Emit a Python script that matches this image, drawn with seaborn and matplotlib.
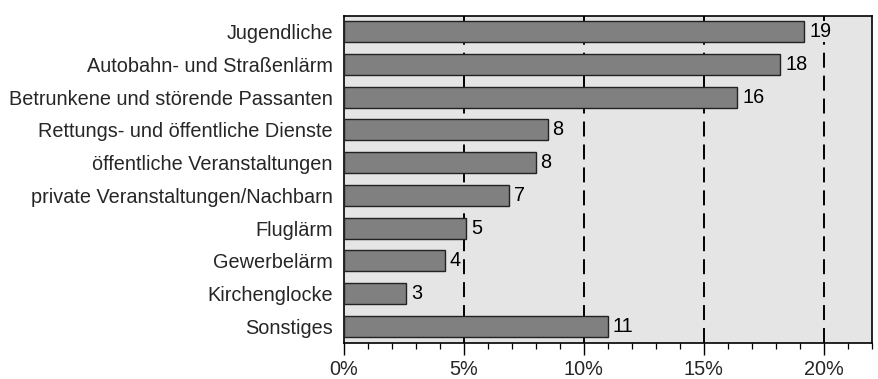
import matplotlib
matplotlib.use("Agg")
import matplotlib.pyplot as plt
from matplotlib.ticker import MultipleLocator, FuncFormatter
import seaborn as sns
import pandas as pd

categories = [
    "Jugendliche",
    "Autobahn- und Straßenlärm",
    "Betrunkene und störende Passanten",
    "Rettungs- und öffentliche Dienste",
    "öffentliche Veranstaltungen",
    "private Veranstaltungen/Nachbarn",
    "Fluglärm",
    "Gewerbelärm",
    "Kirchenglocke",
    "Sonstiges",
]
shares = [19.2, 18.2, 16.4, 8.5, 8.0, 6.9, 5.1, 4.2, 2.6, 11.0]
x_ticks = [0, 5, 10, 15, 20]

df = pd.DataFrame({"Kategorie": categories, "Anteil": shares})

sns.set_theme(style="white")
plt.rcParams["font.family"] = ["Liberation Sans", "DejaVu Sans"]

FS = 14.3
BG = "#e5e5e5"

fig = plt.figure(figsize=(8.79, 3.79), dpi=100)
ax = fig.add_axes([344 / 879, 1 - 342.5 / 379, (871.5 - 344) / 879, (342.5 - 15.5) / 379])
ax.set_facecolor(BG)

sns.barplot(data=df, x="Anteil", y="Kategorie", orient="h", color="#808080",
            saturation=1, width=0.64, edgecolor="#222222", linewidth=1.0,
            ax=ax, zorder=3)

ax.set_xlim(0, 22)
ax.set_ylim(9.5, -0.5)

# dashed reference lines behind the bars
for xv in x_ticks[1:]:
    ax.axvline(xv, color="black", lw=1.4, linestyle=(0, (7.7, 4.1)), zorder=1)

# value labels sit on a patch of the plot background so gridlines don't cross them
for i, v in enumerate(shares):
    ax.text(v + 0.2, i, f"{v:.0f}", va="center", ha="left", fontsize=FS,
            color="black", zorder=4,
            bbox=dict(boxstyle="square,pad=0.05", facecolor=BG, edgecolor="none"))

ax.set_xticks(x_ticks)
ax.xaxis.set_minor_locator(MultipleLocator(1))
ax.xaxis.set_major_formatter(FuncFormatter(lambda v, p: f"{v:.0f}%"))
ax.tick_params(axis="x", which="major", direction="out", length=8.5, width=1.0,
               color="black", bottom=True, labelsize=FS, pad=4)
ax.tick_params(axis="x", which="minor", direction="out", length=4, width=0.9,
               color="black", bottom=True)
ax.tick_params(axis="y", which="both", length=0, labelsize=FS, pad=8)

for s in ax.spines.values():
    s.set_visible(True)
    s.set_color("black")
    s.set_linewidth(1.2)

ax.set_xlabel("")
ax.set_ylabel("")

fig.savefig("out.png", dpi=100)
